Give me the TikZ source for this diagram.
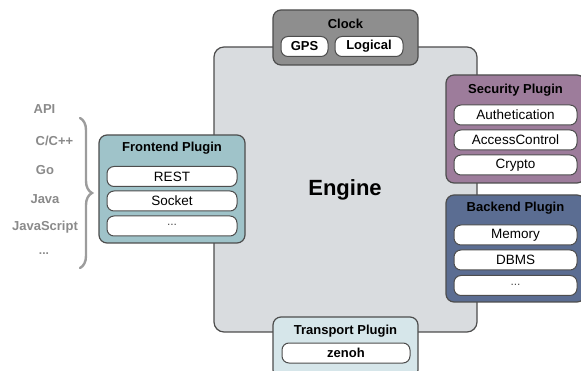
\documentclass[tikz,border=0pt]{standalone}
\usepackage{fontspec}
\setmainfont{Liberation Sans}
\usetikzlibrary{decorations.pathreplacing}

\definecolor{engineFill}{HTML}{D9DCDF}
\definecolor{clockFill}{HTML}{8E8E8E}
\definecolor{frontFill}{HTML}{9FC3C9}
\definecolor{secFill}{HTML}{9D7C9B}
\definecolor{backFill}{HTML}{5B6D92}
\definecolor{transFill}{HTML}{D6E6EA}
\definecolor{edgeGray}{HTML}{4D4D4D}
\definecolor{langGray}{HTML}{8A8A8A}

\tikzset{
  panel/.style={draw=edgeGray, line width=1.2pt, rounded corners=8pt},
  pill/.style={draw=edgeGray, line width=1pt, fill=white, rounded corners=7pt,
    minimum height=20pt, inner sep=0pt, font=\fontsize{13.5}{16}\selectfont},
  boldpill/.style={pill, font=\fontsize{13}{16}\selectfont\bfseries},
  paneltitle/.style={inner sep=0pt, font=\fontsize{13}{16}\selectfont\bfseries},
  lang/.style={inner sep=0pt, text=langGray, font=\fontsize{13}{16}\selectfont\bfseries},
}
% ellipsis used in the "more" entries
\newcommand{\moredots}{{\fontsize{12}{14}\selectfont\raisebox{2pt}{...}}}

\begin{document}
\begin{tikzpicture}[x=1pt, y=-1pt]
\useasboundingbox (0,0) rectangle (581,371);

% core engine
\draw[panel, rounded corners=10pt, fill=engineFill] (214,47) rectangle (477,332);
\node[inner sep=0pt, font=\fontsize{22}{26}\selectfont\bfseries] (engine) at (345,190) {Engine};

% clock
\draw[panel, fill=clockFill] (273,10) rectangle (418,65);
\node[paneltitle] (clock) at (345.5,24) {Clock};
\node[boldpill, minimum width=47pt] (gps) at (304.5,46.5) {GPS};
\node[boldpill, minimum width=68pt] (logical) at (369,46.5) {Logical};

% frontend plugin
\draw[panel, fill=frontFill] (99,135) rectangle (245,243);
\node[paneltitle] (frontend) at (172,148) {Frontend Plugin};
\node[pill, minimum width=130pt] (rest) at (172,176.5) {REST};
\node[pill, minimum width=130pt] (socket) at (172,201) {Socket};
\node[pill, minimum width=130pt, text=edgeGray] (fdots) at (172,226) {\moredots};

% security plugin
\draw[panel, fill=secFill] (446,75) rectangle (585,183);
\node[paneltitle] (security) at (515.5,90) {Security Plugin};
\node[pill, minimum width=123pt] (auth) at (515.5,115) {Authetication};
\node[pill, minimum width=123pt] (access) at (515.5,140) {AccessControl};
\node[pill, minimum width=123pt] (crypto) at (515.5,165) {Crypto};

% backend plugin
\draw[panel, fill=backFill] (446,195) rectangle (585,302);
\node[paneltitle] (backend) at (515.5,208) {Backend Plugin};
\node[pill, minimum width=123pt] (memory) at (515.5,235) {Memory};
\node[pill, minimum width=123pt] (dbms) at (515.5,260) {DBMS};
\node[pill, minimum width=123pt, text=edgeGray] (bdots) at (515.5,285.5) {\moredots};

% transport plugin
\draw[panel, fill=transFill] (273,317) rectangle (418,378);
\node[paneltitle] (transport) at (345.5,331) {Transport Plugin};
\node[boldpill, minimum width=128pt] (zenoh) at (346,353) {zenoh};

% client languages
\node[lang] (api) at (44.5,109) {API};
\node[lang] (cpp) at (54.5,140.5) {C/C++};
\node[lang] (go) at (45,170.5) {Go};
\node[lang] (java) at (45,199) {Java};
\node[lang] (js) at (45,227.5) {JavaScript};
\node[lang] (ldots) at (44,254.5) {\moredots};

% brace grouping the languages, pointing at the frontend
\coordinate (braceTop) at (80,118);
\coordinate (braceBot) at (80,268);
\draw[langGray!85, line width=2.4pt, line cap=round,
  decorate, decoration={brace, amplitude=12pt}] (braceTop) -- (braceBot);
\end{tikzpicture}
\end{document}
